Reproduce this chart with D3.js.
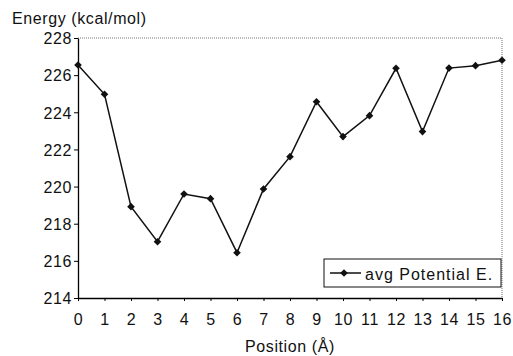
<!DOCTYPE html>
<html>
<head>
<meta charset="utf-8">
<script src="https://cdn.jsdelivr.net/npm/d3@7"></script>
<style>
  body { margin: 0; background: #fff; }
  text { font-family: "Liberation Sans", Arial, sans-serif; fill: #111; letter-spacing: 0.6px; }
</style>
</head>
<body>
<script>
// values
const positions = [0, 1, 2, 3, 4, 5, 6, 7, 8, 9, 10, 11, 12, 13, 14, 15, 16]
const energy = [226.55, 224.97, 218.92, 217.03, 219.6, 219.35, 216.44, 219.87, 221.61,
                224.57, 222.69, 223.82, 226.37, 222.96, 226.38, 226.51, 226.8]
const yTicks = [214, 216, 218, 220, 222, 224, 226, 228]
const seriesName = "avg Potential E."

const width = 513, height = 356
const margin = ({ top: 38, right: 11, bottom: 58, left: 78 })

const svg = d3.select("body").append("svg")
    .attr("width", width)
    .attr("height", height)
    .attr("viewBox", [0, 0, width, height])

const x = d3.scaleLinear()
    .domain([0, 16])
    .range([margin.left, width - margin.right])

const y = d3.scaleLinear()
    .domain([214, 228])
    .range([height - margin.bottom, margin.top])

// dotted frame on top and right
svg.append("path")
    .attr("d", `M${x(0)},${y(228)}H${x(16)}V${y(214)}`)
    .attr("fill", "none")
    .attr("stroke", "#777")
    .attr("stroke-width", 1)
    .attr("stroke-dasharray", "1,1")

const yAxis = g => g
    .attr("transform", `translate(${margin.left},0)`)
    .call(d3.axisLeft(y).tickValues(yTicks).tickSize(4).tickPadding(2).tickSizeOuter(0))
    .call(g => g.selectAll(".tick text").attr("font-size", 16).attr("font-family", null).attr("dy", "0.36em"))
    .call(g => g.select(".domain").attr("stroke-width", 1.3))

const xAxis = g => g
    .attr("transform", `translate(0,${height - margin.bottom})`)
    .call(d3.axisBottom(x).tickValues(positions).tickSize(3).tickPadding(13).tickSizeOuter(0))
    .call(g => g.selectAll(".tick text").attr("font-size", 16).attr("font-family", null))
    .call(g => g.select(".domain").attr("stroke-width", 1.3))

svg.append("g").call(yAxis)
svg.append("g").call(xAxis)

const line = d3.line()
    .x((d, i) => x(positions[i]))
    .y(d => y(d))

svg.append("path")
    .datum(energy)
    .attr("fill", "none")
    .attr("stroke", "#111")
    .attr("stroke-width", 1.5)
    .attr("d", line)

// square diamond marker, ~7px across
const diamond = "M0,-3.8L3.8,0L0,3.8L-3.8,0Z"

svg.append("g")
  .selectAll("path")
  .data(energy)
  .join("path")
    .attr("transform", (d, i) => `translate(${x(positions[i])},${y(d)})`)
    .attr("d", diamond)
    .attr("fill", "#111")

// legend
const legend = svg.append("g")
    .attr("transform", `translate(324,259)`)

legend.append("rect")
    .attr("width", 177)
    .attr("height", 28)
    .attr("fill", "#fff")
    .attr("stroke", "#111")
    .attr("stroke-width", 1)

legend.append("line")
    .attr("x1", 6).attr("x2", 37)
    .attr("y1", 14).attr("y2", 14)
    .attr("stroke", "#111")
    .attr("stroke-width", 1.5)

legend.append("path")
    .attr("transform", "translate(20,14)")
    .attr("d", diamond)
    .attr("fill", "#111")

legend.append("text")
    .attr("x", 41)
    .attr("y", 21)
    .attr("font-size", 16)
    .style("letter-spacing", "1px")
    .text(seriesName)

// axis titles
svg.append("text")
    .attr("x", 12)
    .attr("y", 24)
    .attr("font-size", 16)
    .text("Energy (kcal/mol)")

svg.append("text")
    .attr("x", (x(0) + x(16)) / 2)
    .attr("y", 352)
    .attr("text-anchor", "middle")
    .attr("font-size", 16)
    .text("Position (Å)")
</script>
</body>
</html>
